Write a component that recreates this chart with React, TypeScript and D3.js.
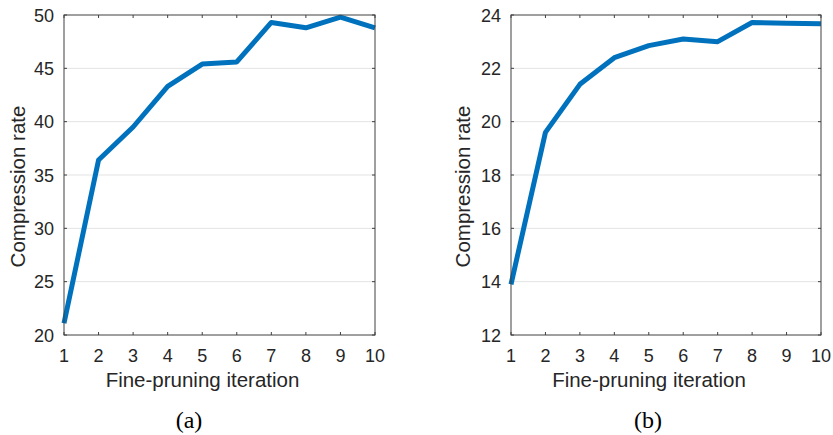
import * as d3 from "d3";

const iterations = [1, 2, 3, 4, 5, 6, 7, 8, 9, 10];
const rateA = [21.1, 36.4, 39.5, 43.3, 45.4, 45.6, 49.3, 48.8, 49.8, 48.8];
const rateB = [13.9, 19.6, 21.4, 22.4, 22.85, 23.1, 23.0, 23.72, 23.69, 23.67];
const yTicksA = [20, 25, 30, 35, 40, 45, 50];
const yTicksB = [12, 14, 16, 18, 20, 22, 24];

const W = 833;
const H = 435;
const font = "Liberation Sans, Arial, Helvetica, sans-serif";
const axisColor = "#404040";
const textColor = "#262626";

function Panel({ values, yTicks, left, right, caption, captionX, labelX }) {
  const top = 15;
  const bottom = 335;
  const x = d3.scaleLinear().domain([1, 10]).range([left, right]);
  const y = d3
    .scaleLinear()
    .domain([yTicks[0], yTicks[yTicks.length - 1]])
    .range([bottom, top]);
  const line = d3
    .line<number>()
    .x((_, i) => x(iterations[i]))
    .y((d) => y(d));
  const tl = 3;

  return (
    <g>
      {yTicks.slice(1, -1).map((t) => (
        <line key={"g" + t} x1={left} x2={right} y1={y(t)} y2={y(t)} stroke="#e3e3e3" strokeWidth={1} />
      ))}
      {iterations.map((t) => (
        <g key={"xt" + t}>
          <line x1={x(t)} x2={x(t)} y1={bottom} y2={bottom - tl} stroke={axisColor} />
          <line x1={x(t)} x2={x(t)} y1={top} y2={top + tl} stroke={axisColor} />
          <text x={x(t)} y={bottom + 27} textAnchor="middle" fontSize={18} fill={textColor} fontFamily={font}>
            {t}
          </text>
        </g>
      ))}
      {yTicks.map((t) => (
        <g key={"yt" + t}>
          <line x1={left} x2={left + tl} y1={y(t)} y2={y(t)} stroke={axisColor} />
          <line x1={right} x2={right - tl} y1={y(t)} y2={y(t)} stroke={axisColor} />
          <text x={left - 10} y={y(t) + 6.5} textAnchor="end" fontSize={18} fill={textColor} fontFamily={font}>
            {t}
          </text>
        </g>
      ))}
      <path d={line(values) || ""} fill="none" stroke="#0072BD" strokeWidth={5} strokeLinejoin="round" />
      <rect x={left} y={top} width={right - left} height={bottom - top} fill="none" stroke={axisColor} strokeWidth={1} />
      <text x={(left + right) / 2 - 17} y={387} textAnchor="middle" fontSize={20.5} fill={textColor} fontFamily={font}>
        Fine-pruning iteration
      </text>
      <text
        transform={`translate(${labelX},186.5) rotate(-90)`}
        textAnchor="middle"
        fontSize={20.5}
        fill={textColor}
        fontFamily={font}
      >
        Compression rate
      </text>
      <text x={captionX} y={428} textAnchor="middle" fontSize={24} fill="#000" fontFamily="Liberation Serif, Times New Roman, serif">
        {caption}
      </text>
    </g>
  );
}

export default function App() {
  return (
    <svg width={W} height={H} style={{ position: "absolute", left: 0, top: 0, background: "#fff" }}>
      <Panel values={rateA} yTicks={yTicksA} left={64} right={375} caption="(a)" captionX={189} labelX={25} />
      <Panel values={rateB} yTicks={yTicksB} left={511} right={821} caption="(b)" captionX={648} labelX={470} />
    </svg>
  );
}
